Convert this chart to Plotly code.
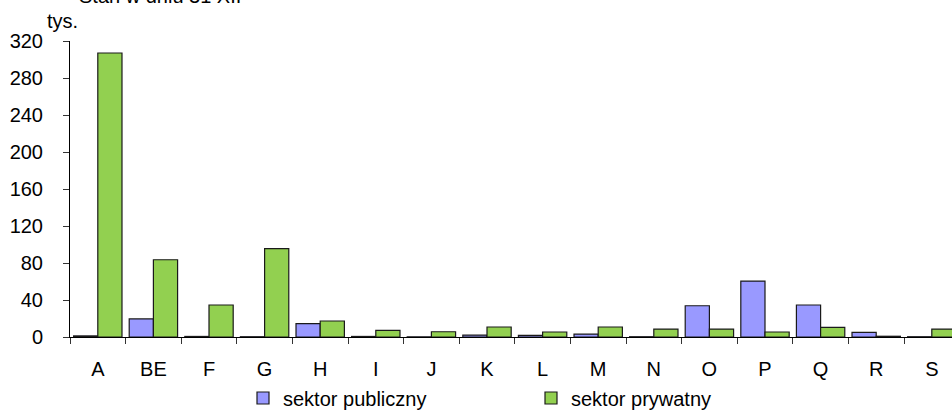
import plotly.graph_objects as go

categories = ["A", "BE", "F", "G", "H", "I", "J", "K", "L", "M", "N", "O", "P", "Q", "R", "S"]
public_sector = [1.2, 19.5, 0.6, 0.3, 14.4, 0.6, 0.2, 2.1, 1.8, 3.2, 0.3, 33.8, 60.5, 34.6, 5.0, 0.3]
private_sector = [307, 83.5, 34.6, 95.5, 17.3, 7.1, 5.7, 10.8, 5.4, 10.8, 8.6, 8.6, 5.4, 10.4, 0.8, 8.6]
y_ticks = [0, 40, 80, 120, 160, 200, 240, 280, 320]
series_names = ["sektor publiczny", "sektor prywatny"]
title_text = "Stan w dniu 31 XII"
unit_text = "tys."

FONT = "Liberation Sans, Arial, sans-serif"
W, H = 952, 413
ML, MT, MB, MR = 70, 41, 76, 0
plot_w = W - ML - MR
plot_h = H - MT - MB

def py(p):
    # screen pixel y -> paper y
    return (H - MB - p) / plot_h

def px(p):
    # screen pixel x -> paper x
    return (p - ML) / plot_w

fig = go.Figure()
fig.add_trace(go.Bar(
    x=categories, y=public_sector, name=series_names[0],
    marker=dict(color="#9999FF", line=dict(color="#1a1a1a", width=1.2)),
))
fig.add_trace(go.Bar(
    x=categories, y=private_sector, name=series_names[1],
    marker=dict(color="#92D050", line=dict(color="#1a1a1a", width=1.2)),
))

cat_w = 55.6
n_visible = plot_w / cat_w

fig.update_layout(
    width=W, height=H,
    margin=dict(l=ML, r=MR, t=MT, b=MB, autoexpand=False),
    paper_bgcolor="white", plot_bgcolor="white",
    barmode="group", bargap=0.13, bargroupgap=0,
    font=dict(family=FONT, size=20, color="black"),
    showlegend=True,
    legend=dict(
        orientation="h", x=px(243), xanchor="left",
        y=py(398), yanchor="middle",
        font=dict(family=FONT, size=20, color="black"),
        entrywidth=243, entrywidthmode="pixels",
        itemwidth=30, tracegroupgap=0,
        bgcolor="rgba(0,0,0,0)",
    ),
    xaxis=dict(
        type="category", range=[-0.5, -0.5 + n_visible],
        showline=True, linecolor="black", linewidth=1,
        ticks="outside", tickson="boundaries", ticklen=6, tickcolor="#333",
        ticklabelstandoff=14, automargin=False,
        showgrid=False, zeroline=False,
        tickfont=dict(family=FONT, size=20, color="black"),
    ),
    yaxis=dict(
        range=[0, 320], tickvals=y_ticks,
        showline=True, linecolor="black", linewidth=1,
        ticks="outside", ticklen=6, tickcolor="#333",
        ticklabelstandoff=16, automargin=False,
        showgrid=False, zeroline=False,
        tickfont=dict(family=FONT, size=20, color="black"),
    ),
    annotations=[
        dict(text=title_text, xref="paper", yref="paper",
             x=px(77), y=py(9), xanchor="left", yanchor="bottom",
             showarrow=False, font=dict(family=FONT, size=20, color="black")),
        dict(text=unit_text, xref="paper", yref="paper",
             x=px(45), y=py(34), xanchor="left", yanchor="bottom",
             showarrow=False, font=dict(family=FONT, size=20, color="black")),
    ],
)

fig.write_html("out.html", config={"displayModeBar": False},
               post_script="document.body.style.margin='0';")
